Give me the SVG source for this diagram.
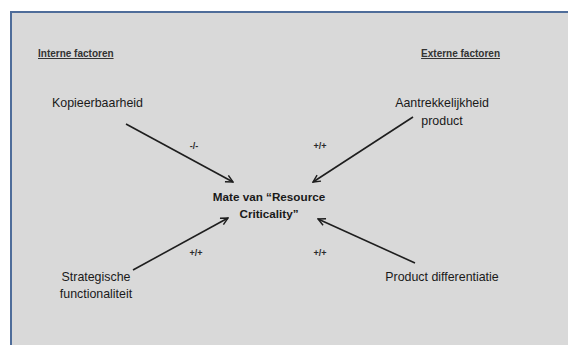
<svg xmlns="http://www.w3.org/2000/svg" width="568" height="345" viewBox="0 0 568 345">
  <style>
    .t { font-family: "Liberation Sans", Arial, sans-serif; fill: #1a1a1a; }
    .lbl { font-size: 12.4px; }
    .hdr { font-size: 10px; font-weight: bold; text-decoration: underline; fill: #333333; }
    .sign { font-size: 9px; font-weight: bold; fill: #2a2a2a; }
    .core { font-size: 11.7px; font-weight: bold; }
    .edge { stroke: #1e1e1e; stroke-width: 1.6; fill: none; marker-end: url(#arrow); }
  </style>
  <defs>
    <marker id="arrow" viewBox="0 0 10 10" refX="9" refY="5" markerWidth="9" markerHeight="9" markerUnits="userSpaceOnUse" orient="auto">
      <path d="M1 1 L9 5 L1 9" fill="none" stroke="#1e1e1e" stroke-width="1.6"/>
    </marker>
  </defs>

  <rect width="568" height="345" fill="#ffffff"/>
  <!-- panel -->
  <rect x="10" y="11" width="560" height="336" fill="#d9d9d9"/>
  <line x1="10" y1="12" x2="568" y2="12" stroke="#4f6d9a" stroke-width="2"/>
  <line x1="11" y1="11" x2="11" y2="345" stroke="#4f6d9a" stroke-width="2"/>

  <g id="header-intern">
    <text class="t hdr" x="38" y="57">Interne factoren</text>
  </g>
  <g id="header-extern">
    <text class="t hdr" x="500" y="57" text-anchor="end">Externe factoren</text>
  </g>

  <g id="node-kopieerbaarheid">
    <text class="t lbl" x="52" y="107">Kopieerbaarheid</text>
  </g>
  <g id="node-aantrekkelijkheid">
    <text class="t lbl" x="442" y="107" text-anchor="middle">Aantrekkelijkheid</text>
    <text class="t lbl" x="442" y="125" text-anchor="middle">product</text>
  </g>
  <g id="node-criticality">
    <text class="t core" x="269" y="201" text-anchor="middle">Mate van “Resource</text>
    <text class="t core" x="269" y="218" text-anchor="middle">Criticality”</text>
  </g>
  <g id="node-strategisch">
    <text class="t lbl" x="96" y="281" text-anchor="middle">Strategische</text>
    <text class="t lbl" x="96" y="298" text-anchor="middle">functionaliteit</text>
  </g>
  <g id="node-differentiatie">
    <text class="t lbl" x="442" y="281" text-anchor="middle">Product differentiatie</text>
  </g>

  <g id="connectors">
    <line class="edge" x1="126" y1="124" x2="233" y2="182"/>
    <line class="edge" x1="413" y1="117" x2="313" y2="182"/>
    <line class="edge" x1="133" y1="270" x2="228" y2="218"/>
    <line class="edge" x1="415" y1="263" x2="318" y2="219"/>
    <text class="t sign" x="194" y="149" text-anchor="middle">-/-</text>
    <text class="t sign" x="320" y="149" text-anchor="middle">+/+</text>
    <text class="t sign" x="196" y="256" text-anchor="middle">+/+</text>
    <text class="t sign" x="320" y="256" text-anchor="middle">+/+</text>
  </g>
</svg>
